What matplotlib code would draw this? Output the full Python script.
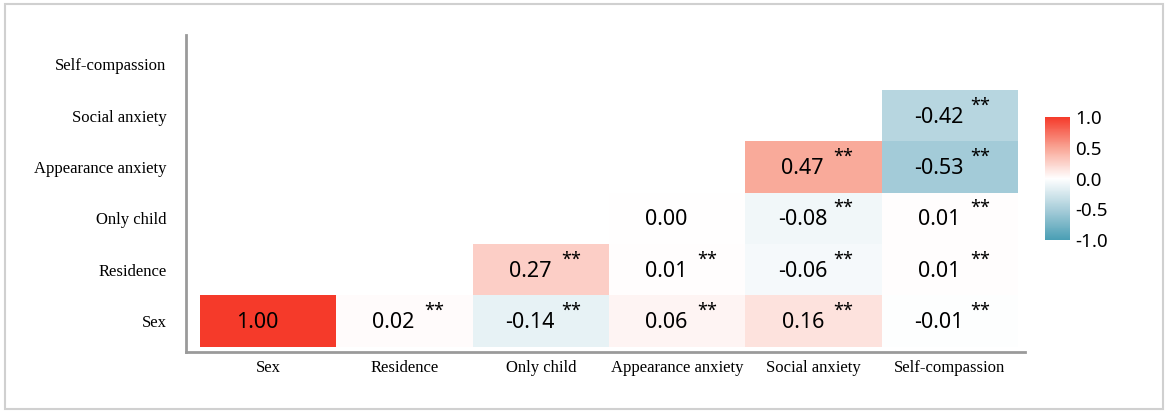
import numpy as np
import matplotlib
matplotlib.use('Agg')
import matplotlib.pyplot as plt
from matplotlib.colors import LinearSegmentedColormap

variables = ['Sex', 'Residence', 'Only child', 'Appearance anxiety',
             'Social anxiety', 'Self-compassion']

# rows from bottom (Sex) to top (Self-compassion); NaN = blank cell
row_sex = [1.00, 0.02, -0.14, 0.06, 0.16, -0.01]
row_residence = [np.nan, np.nan, 0.27, 0.01, -0.06, 0.01]
row_only_child = [np.nan, np.nan, np.nan, 0.00, -0.08, 0.01]
row_appearance = [np.nan, np.nan, np.nan, np.nan, 0.47, -0.53]
row_social = [np.nan, np.nan, np.nan, np.nan, np.nan, -0.42]
row_selfcomp = [np.nan] * 6

# significance markers (same layout)
sig_sex = ['', '**', '**', '**', '**', '**']
sig_residence = ['', '', '**', '**', '**', '**']
sig_only_child = ['', '', '', '', '**', '**']
sig_appearance = ['', '', '', '', '**', '**']
sig_social = ['', '', '', '', '', '**']
sig_selfcomp = [''] * 6

corr = np.array([row_sex, row_residence, row_only_child,
                 row_appearance, row_social, row_selfcomp])
sig = [sig_sex, sig_residence, sig_only_child, sig_appearance, sig_social, sig_selfcomp]

cmap = LinearSegmentedColormap.from_list(
    'bwr_soft',
    [(0.0, '#4A9EB4'), (0.25, '#A9CEDA'), (0.5, '#FFFFFF'),
     (0.75, '#F9A595'), (1.0, '#F53A2A')])

fig = plt.figure(figsize=(11.7, 4.13), dpi=100)
ax = fig.add_axes([0.159, 0.148, 0.717, 0.767])

masked = np.ma.masked_invalid(corr)
mesh = ax.pcolormesh(np.arange(7) - 0.5, np.arange(7) - 0.5, masked,
                     cmap=cmap, vmin=-1, vmax=1)

for r in range(corr.shape[0]):
    for c in range(corr.shape[1]):
        v = corr[r, c]
        if np.isnan(v):
            continue
        ax.text(c - 0.08, r - 0.03, f'{v:.2f}', ha='center', va='center',
                fontsize=15.5, family='Noto Sans', color='black')
        if sig[r][c]:
            ax.text(c + 0.22, r + 0.2, sig[r][c], ha='center', va='center',
                    fontsize=13, family='Noto Sans', color='black')

ax.set_xlim(-0.603, 5.55)
ax.set_ylim(-0.6, 5.57)
ax.set_xticks(range(6))
ax.set_xticklabels(variables)
ax.set_yticks(range(6))
ax.set_yticklabels(variables)
ax.tick_params(axis='y', length=0, labelsize=12, pad=14)
ax.tick_params(axis='x', length=0, labelsize=12, pad=6)
for lab in ax.get_xticklabels() + ax.get_yticklabels():
    lab.set_family('Liberation Serif')
ax.spines['top'].set_visible(False)
ax.spines['right'].set_visible(False)
for s in ['left', 'bottom']:
    ax.spines[s].set_color('#9a9a9a')
    ax.spines[s].set_linewidth(2)

cax = fig.add_axes([1045 / 1170, 1 - 240 / 413, 25 / 1170, 123 / 413])
cb = fig.colorbar(mesh, cax=cax, ticks=[-1, -0.5, 0, 0.5, 1])
cb.outline.set_visible(False)
cb.ax.tick_params(length=0, labelsize=13.5, pad=4)
cb.ax.set_yticklabels(['-1.0', '-0.5', '0.0', '0.5', '1.0'], family='Noto Sans')

# outer frame
fig.patches.append(plt.Rectangle((0.004, 0.01), 0.99, 0.98, transform=fig.transFigure,
                                 fill=False, edgecolor='#d0d0d0', linewidth=1.5))

fig.savefig('out.png', dpi=100)
